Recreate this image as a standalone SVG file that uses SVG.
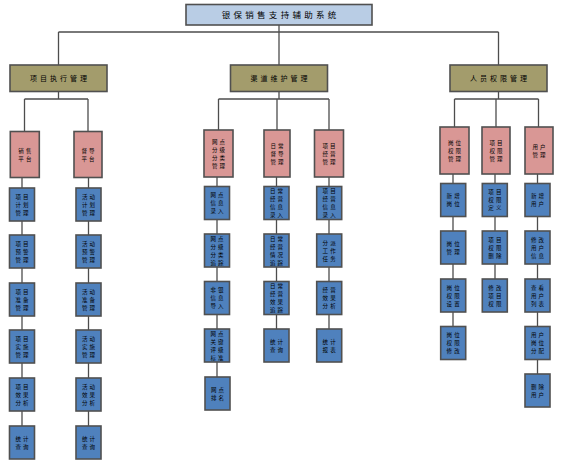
<svg xmlns="http://www.w3.org/2000/svg" width="566" height="460" viewBox="0 0 566 460">
<style>
rect{stroke:#505050;stroke-width:1.6}
.top{fill:#B9CDE5}
.l1{fill:#A39C6C}
.l2{fill:#D99795}
.l3{fill:#4F81BD}
.c{fill:none;stroke:#4d4d4d;stroke-width:1.3}
text{font-family:"Noto Sans CJK SC","Noto Sans CJK TC",sans-serif;fill:#000;text-anchor:middle}
.t{font-size:5.5px;letter-spacing:2.2px}
.tl1{font-size:7px;letter-spacing:3px}
.tt{font-size:8.5px;letter-spacing:3.3px}
</style>
<rect width="566" height="460" fill="#fff" style="stroke:none"/>
<g id="connectors" class="c">
<path d="M279 25V32M58.5 32H498.5M58.5 32V65M279 32V65M498.5 32V65"/>
<path d="M58.5 91.5V99M24.5 99H88M24.5 99V131.5M88 99V131.5M22 177.5V426M88.5 177.5V426"/>
<path d="M279 91.5V99M218.5 99H329M218.5 99V130M277 99V130M329 99V130M217 177V377M276.5 177V329M329 177V329"/>
<path d="M498.5 91.5V99M454.5 99H538.5M454.5 99V127M496 99V127M538.5 99V127M453 174V326.5M495 174V279M537.5 174V374"/>
</g>
<g id="root"><rect class="top" x="186" y="4.5" width="186" height="20.5"/><text class="tt" x="280.65" y="18">银保销售支持辅助系统</text></g>
<g id="n1"><rect class="l1" x="10" y="65" width="97" height="26.5"/><text class="tl1" x="60" y="81">项目执行管理</text></g>
<g id="n2"><rect class="l1" x="230.5" y="65" width="97" height="26.5"/><text class="tl1" x="280.5" y="81">渠道维护管理</text></g>
<g id="n3"><rect class="l1" x="450" y="65" width="97" height="26.5"/><text class="tl1" x="500" y="81">人员权限管理</text></g>

<g id="p11" transform="translate(10.3,131.5)"><rect class="l2" width="29" height="46"/><text class="t"><tspan x="15.6" y="21.1">销售</tspan><tspan x="15.6" y="29.1">平台</tspan></text></g>
<g id="p12" transform="translate(74,131.5)"><rect class="l2" width="28" height="46"/><text class="t"><tspan x="15.1" y="21.1">督导</tspan><tspan x="15.1" y="29.1">平台</tspan></text></g>
<g id="p21" transform="translate(204,130)"><rect class="l2" width="29" height="47"/><text class="t"><tspan x="15.6" y="13.6">网点</tspan><tspan x="15.6" y="21.6">分级</tspan><tspan x="15.6" y="29.6">分类</tspan><tspan x="15.6" y="37.6">管理</tspan></text></g>
<g id="p22" transform="translate(264,130)"><rect class="l2" width="26" height="47"/><text class="t"><tspan x="14.1" y="17.6">日常</tspan><tspan x="14.1" y="25.6">督导</tspan><tspan x="14.1" y="33.6">管理</tspan></text></g>
<g id="p23" transform="translate(314.5,130)"><rect class="l2" width="29" height="47"/><text class="t"><tspan x="15.6" y="17.6">项目</tspan><tspan x="15.6" y="25.6">经营</tspan><tspan x="15.6" y="33.6">管理</tspan></text></g>
<g id="p31" transform="translate(440,127)"><rect class="l2" width="29" height="47"/><text class="t"><tspan x="15.6" y="17.6">岗位</tspan><tspan x="15.6" y="25.6">权限</tspan><tspan x="15.6" y="33.6">管理</tspan></text></g>
<g id="p32" transform="translate(482,127)"><rect class="l2" width="28" height="47"/><text class="t"><tspan x="15.1" y="17.6">项目</tspan><tspan x="15.1" y="25.6">权限</tspan><tspan x="15.1" y="33.6">管理</tspan></text></g>
<g id="p33" transform="translate(525,127)"><rect class="l2" width="28" height="47"/><text class="t"><tspan x="15.1" y="21.6">用户</tspan><tspan x="15.1" y="29.6">管理</tspan></text></g>

<g id="a1" transform="translate(9.5,188)"><rect class="l3" width="25" height="33"/><text class="t"><tspan x="13.6" y="10.6">项目</tspan><tspan x="13.6" y="18.6">计划</tspan><tspan x="13.6" y="26.6">管理</tspan></text></g>
<g id="a2" transform="translate(9.5,235)"><rect class="l3" width="25" height="33"/><text class="t"><tspan x="13.6" y="10.6">项目</tspan><tspan x="13.6" y="18.6">预警</tspan><tspan x="13.6" y="26.6">管理</tspan></text></g>
<g id="a3" transform="translate(9.5,283)"><rect class="l3" width="25" height="33"/><text class="t"><tspan x="13.6" y="10.6">项目</tspan><tspan x="13.6" y="18.6">准备</tspan><tspan x="13.6" y="26.6">管理</tspan></text></g>
<g id="a4" transform="translate(9.5,330)"><rect class="l3" width="25" height="33"/><text class="t"><tspan x="13.6" y="10.6">项目</tspan><tspan x="13.6" y="18.6">实施</tspan><tspan x="13.6" y="26.6">管理</tspan></text></g>
<g id="a5" transform="translate(9.5,378)"><rect class="l3" width="25" height="33"/><text class="t"><tspan x="13.6" y="10.6">项目</tspan><tspan x="13.6" y="18.6">效果</tspan><tspan x="13.6" y="26.6">分析</tspan></text></g>
<g id="a6" transform="translate(9.5,426)"><rect class="l3" width="25" height="33"/><text class="t"><tspan x="13.6" y="14.6">统计</tspan><tspan x="13.6" y="22.6">查询</tspan></text></g>

<g id="b1" transform="translate(76,188)"><rect class="l3" width="25" height="33"/><text class="t"><tspan x="13.6" y="10.6">活动</tspan><tspan x="13.6" y="18.6">计划</tspan><tspan x="13.6" y="26.6">管理</tspan></text></g>
<g id="b2" transform="translate(76,235)"><rect class="l3" width="25" height="33"/><text class="t"><tspan x="13.6" y="10.6">活动</tspan><tspan x="13.6" y="18.6">预警</tspan><tspan x="13.6" y="26.6">管理</tspan></text></g>
<g id="b3" transform="translate(76,283)"><rect class="l3" width="25" height="33"/><text class="t"><tspan x="13.6" y="10.6">活动</tspan><tspan x="13.6" y="18.6">准备</tspan><tspan x="13.6" y="26.6">管理</tspan></text></g>
<g id="b4" transform="translate(76,330)"><rect class="l3" width="25" height="33"/><text class="t"><tspan x="13.6" y="10.6">活动</tspan><tspan x="13.6" y="18.6">实施</tspan><tspan x="13.6" y="26.6">管理</tspan></text></g>
<g id="b5" transform="translate(76,378)"><rect class="l3" width="25" height="33"/><text class="t"><tspan x="13.6" y="10.6">活动</tspan><tspan x="13.6" y="18.6">效果</tspan><tspan x="13.6" y="26.6">分析</tspan></text></g>
<g id="b6" transform="translate(76,426)"><rect class="l3" width="25" height="33"/><text class="t"><tspan x="13.6" y="14.6">统计</tspan><tspan x="13.6" y="22.6">查询</tspan></text></g>

<g id="c1" transform="translate(204.5,186.5)"><rect class="l3" width="25" height="33"/><text class="t"><tspan x="13.6" y="10.6">网点</tspan><tspan x="13.6" y="18.6">信息</tspan><tspan x="13.6" y="26.6">录入</tspan></text></g>
<g id="c2" transform="translate(204.5,234)"><rect class="l3" width="25" height="33"/><text class="t"><tspan x="13.6" y="6.6">网点</tspan><tspan x="13.6" y="14.6">分级</tspan><tspan x="13.6" y="22.6">分类</tspan><tspan x="13.6" y="30.6">追踪</tspan></text></g>
<g id="c3" transform="translate(204.5,281.5)"><rect class="l3" width="25" height="33"/><text class="t"><tspan x="13.6" y="10.6">非银</tspan><tspan x="13.6" y="18.6">信息</tspan><tspan x="13.6" y="26.6">导入</tspan></text></g>
<g id="c4" transform="translate(204.5,329)"><rect class="l3" width="25" height="33"/><text class="t"><tspan x="13.6" y="6.6">网点</tspan><tspan x="13.6" y="14.6">关键</tspan><tspan x="13.6" y="22.6">评级</tspan><tspan x="13.6" y="30.6">标准</tspan></text></g>
<g id="c5" transform="translate(205,377)"><rect class="l3" width="25" height="33"/><text class="t"><tspan x="13.6" y="14.6">网点</tspan><tspan x="13.6" y="22.6">排名</tspan></text></g>

<g id="d1" transform="translate(264,186.5)"><rect class="l3" width="25" height="33"/><text class="t"><tspan x="13.6" y="6.6">日常</tspan><tspan x="13.6" y="14.6">经营</tspan><tspan x="13.6" y="22.6">信息</tspan><tspan x="13.6" y="30.6">录入</tspan></text></g>
<g id="d2" transform="translate(264,234)"><rect class="l3" width="25" height="33"/><text class="t"><tspan x="13.6" y="6.6">日常</tspan><tspan x="13.6" y="14.6">经营</tspan><tspan x="13.6" y="22.6">情况</tspan><tspan x="13.6" y="30.6">追踪</tspan></text></g>
<g id="d3" transform="translate(264,281.5)"><rect class="l3" width="25" height="33"/><text class="t"><tspan x="13.6" y="6.6">日常</tspan><tspan x="13.6" y="14.6">经营</tspan><tspan x="13.6" y="22.6">效果</tspan><tspan x="13.6" y="30.6">追踪</tspan></text></g>
<g id="d4" transform="translate(264,329)"><rect class="l3" width="25" height="33"/><text class="t"><tspan x="13.6" y="14.6">统计</tspan><tspan x="13.6" y="22.6">查询</tspan></text></g>

<g id="e1" transform="translate(316.7,186.5)"><rect class="l3" width="25" height="33"/><text class="t"><tspan x="13.6" y="6.6">项目</tspan><tspan x="13.6" y="14.6">经营</tspan><tspan x="13.6" y="22.6">信息</tspan><tspan x="13.6" y="30.6">录入</tspan></text></g>
<g id="e2" transform="translate(316.7,234)"><rect class="l3" width="25" height="33"/><text class="t"><tspan x="13.6" y="10.6">分派</tspan><tspan x="13.6" y="18.6">工作</tspan><tspan x="13.6" y="26.6">任务</tspan></text></g>
<g id="e3" transform="translate(316.7,281.5)"><rect class="l3" width="25" height="33"/><text class="t"><tspan x="13.6" y="10.6">经营</tspan><tspan x="13.6" y="18.6">效果</tspan><tspan x="13.6" y="26.6">分析</tspan></text></g>
<g id="e4" transform="translate(316.7,329)"><rect class="l3" width="25" height="33"/><text class="t"><tspan x="13.6" y="14.6">统计</tspan><tspan x="13.6" y="22.6">报表</tspan></text></g>

<g id="f1" transform="translate(440.7,183.5)"><rect class="l3" width="25" height="33"/><text class="t"><tspan x="13.6" y="14.6">新增</tspan><tspan x="13.6" y="22.6">岗位</tspan></text></g>
<g id="f2" transform="translate(440.7,231)"><rect class="l3" width="25" height="33"/><text class="t"><tspan x="13.6" y="14.6">岗位</tspan><tspan x="13.6" y="22.6">管理</tspan></text></g>
<g id="f3" transform="translate(440.7,279)"><rect class="l3" width="25" height="33"/><text class="t"><tspan x="13.6" y="10.6">岗位</tspan><tspan x="13.6" y="18.6">权限</tspan><tspan x="13.6" y="26.6">设置</tspan></text></g>
<g id="f4" transform="translate(440.7,326.5)"><rect class="l3" width="25" height="33"/><text class="t"><tspan x="13.6" y="10.6">岗位</tspan><tspan x="13.6" y="18.6">权限</tspan><tspan x="13.6" y="26.6">修改</tspan></text></g>

<g id="g1" transform="translate(482.3,183.5)"><rect class="l3" width="25" height="33"/><text class="t"><tspan x="13.6" y="10.6">项目</tspan><tspan x="13.6" y="18.6">权限</tspan><tspan x="13.6" y="26.6">定义</tspan></text></g>
<g id="g2" transform="translate(482.3,231)"><rect class="l3" width="25" height="33"/><text class="t"><tspan x="13.6" y="10.6">项目</tspan><tspan x="13.6" y="18.6">权限</tspan><tspan x="13.6" y="26.6">删除</tspan></text></g>
<g id="g3" transform="translate(482.3,279)"><rect class="l3" width="25" height="33"/><text class="t"><tspan x="13.6" y="10.6">修改</tspan><tspan x="13.6" y="18.6">项目</tspan><tspan x="13.6" y="26.6">权限</tspan></text></g>

<g id="h1" transform="translate(525,183.5)"><rect class="l3" width="25" height="33"/><text class="t"><tspan x="13.6" y="14.6">新增</tspan><tspan x="13.6" y="22.6">用户</tspan></text></g>
<g id="h2" transform="translate(525,231)"><rect class="l3" width="25" height="33"/><text class="t"><tspan x="13.6" y="10.6">修改</tspan><tspan x="13.6" y="18.6">用户</tspan><tspan x="13.6" y="26.6">信息</tspan></text></g>
<g id="h3" transform="translate(525,279)"><rect class="l3" width="25" height="33"/><text class="t"><tspan x="13.6" y="10.6">查看</tspan><tspan x="13.6" y="18.6">用户</tspan><tspan x="13.6" y="26.6">列表</tspan></text></g>
<g id="h4" transform="translate(525,326.5)"><rect class="l3" width="25" height="33"/><text class="t"><tspan x="13.6" y="10.6">用户</tspan><tspan x="13.6" y="18.6">岗位</tspan><tspan x="13.6" y="26.6">分配</tspan></text></g>
<g id="h5" transform="translate(525,374)"><rect class="l3" width="25" height="33"/><text class="t"><tspan x="13.6" y="14.6">删除</tspan><tspan x="13.6" y="22.6">用户</tspan></text></g>
</svg>
